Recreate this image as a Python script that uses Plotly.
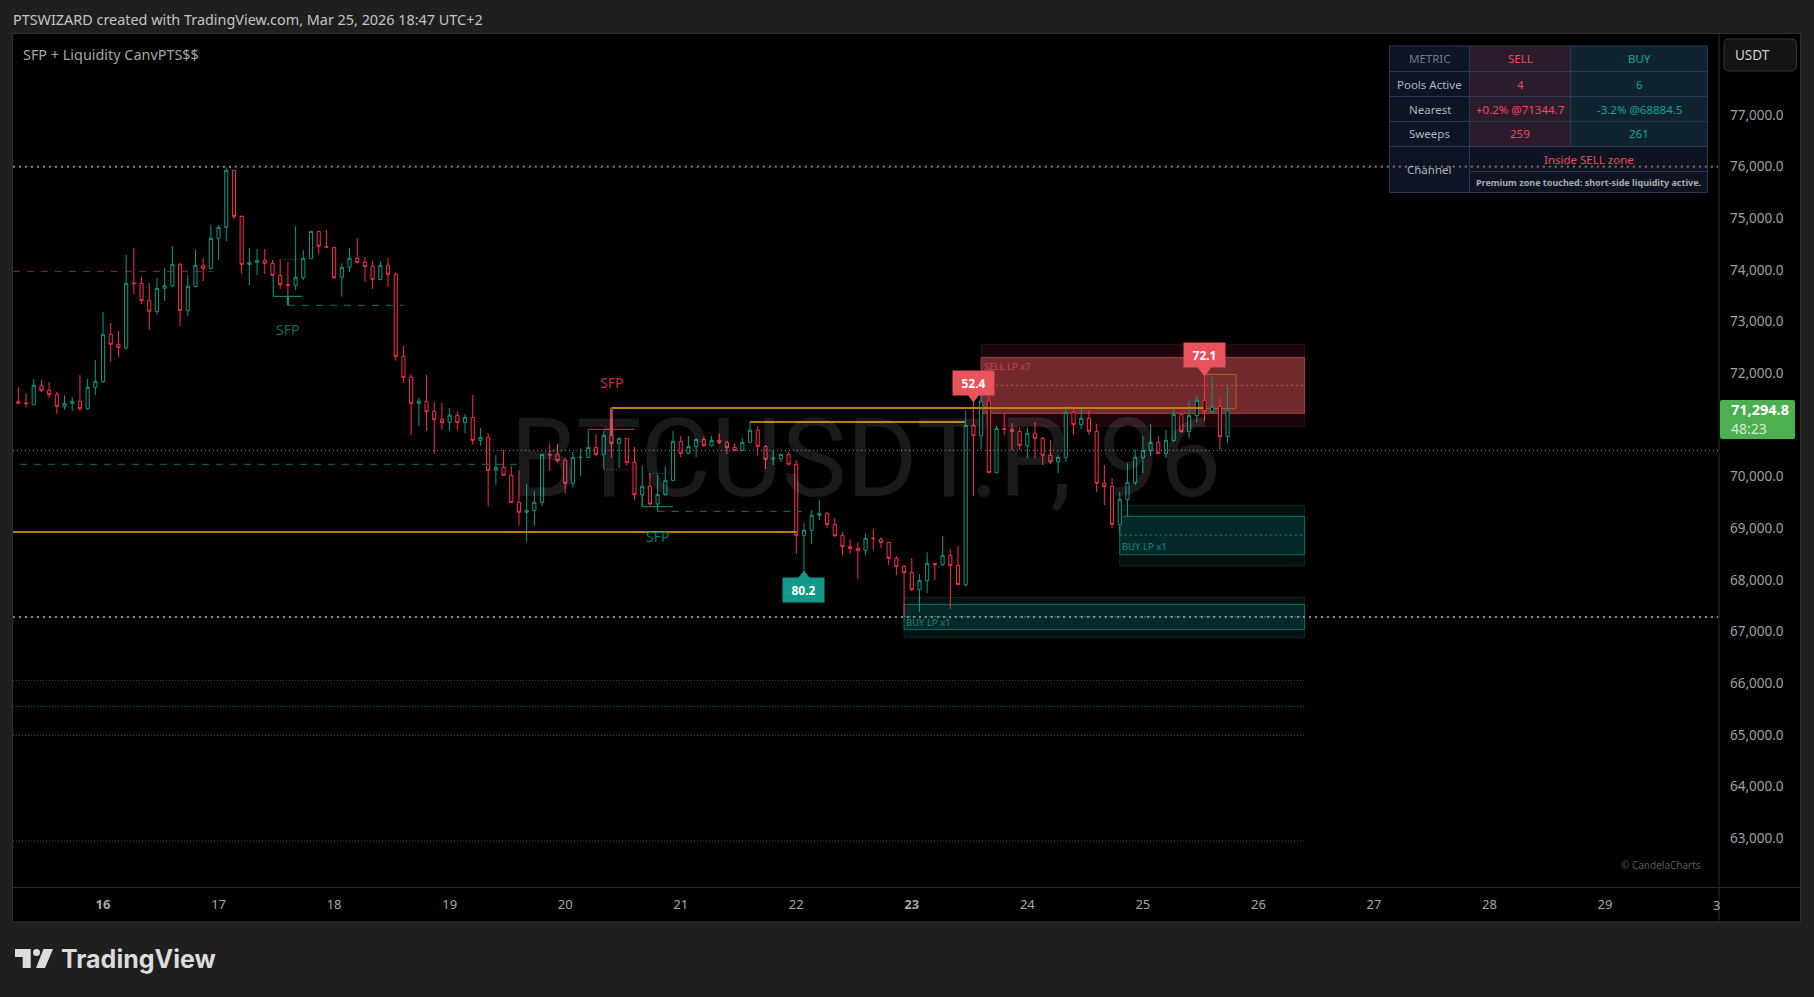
import plotly.graph_objects as go

W, H = 1814, 997

# ---------- data ----------
candle_open = [71459,71427,71394,71762,71672,71594,71356,71420,71459,71317,71730,71839,72756,72562,72497,73749,73743,73413,73194,73646,
73697,74110,73214,73678,74091,74033,74613,74826,75929,75039,74110,74149,74188,74130,73897,73717,73704,73852,74220,74749,
74459,74439,73859,74052,74226,74149,74072,73814,74091,73917,72330,71923,71420,71459,71265,71110,71046,71188,71046,71149,
70704,70762,70123,70182,70027,69504,69311,69343,69504,70433,70433,70317,69872,70368,70375,70569,70433,70801,70646,70743,
70278,69653,69814,69472,69653,69930,70685,70453,70582,70723,70601,70704,70665,70569,70504,70665,70898,70588,70343,70350,
70433,70240,68866,68962,69253,69291,69078,68866,68653,68614,68569,68814,68788,68730,68420,68266,68149,67814,67988,68324,
68298,68479,68285,67911,70994,70794,71465,70078,70930,70917,70878,70601,70840,70743,70414,70291,70375,71246,71007,71130,
70878,69872,69814,69072,69556,69885,70368,70510,70665,70446,70698,71207,70872,71181,71478,71259,71362,70775]
candle_high = [71736,71614,71891,71872,71833,71639,71575,71543,71968,71891,72259,73188,72975,72820,74291,74426,73865,73749,73846,74039,
74465,74136,73904,74388,74233,74871,74871,75987,75929,75059,74426,74407,74407,74194,74213,74155,74852,74388,74749,74749,
74775,74439,74130,74426,74620,74252,74175,74175,74233,73955,72530,71988,71523,71968,71446,71427,71330,71265,71214,71581,
70943,70840,70420,70517,70207,70130,69859,69724,70433,70646,70633,70375,70478,70549,70917,70820,70885,71336,70762,70743,
70575,70220,70065,70033,70201,70885,70788,70788,70743,70781,70788,70840,70704,70646,70749,71059,70975,70614,70498,70433,
70472,70323,69104,69349,69549,69317,69201,68930,68788,68730,68904,68982,68833,68730,68466,68285,68427,68117,68537,68324,
68853,68601,68659,71272,71490,71775,71620,70982,71214,71040,70956,70956,71059,70769,70711,70414,71369,71304,71323,71291,
71020,70227,69975,69704,70259,70536,70788,71020,70788,70904,71311,71207,71465,71575,71975,71930,71517,71736]
candle_low = [71420,71336,71394,71639,71523,71214,71298,71272,71272,71298,71581,71814,72220,72317,72459,73536,73343,72839,73130,73401,
73672,72917,73110,73678,73788,74007,74194,74562,74988,73923,73710,73904,73923,73880,73633,73317,73614,73807,74220,74310,
74420,73826,73484,73962,74130,73768,73633,73814,73672,72246,71820,70807,70988,70885,70446,70911,70885,70904,70846,70620,
70601,69420,69840,70020,69497,69053,68737,69053,69433,70111,70272,69672,69788,70014,70375,70395,70143,70368,70169,70214,
69556,69420,69446,69330,69633,69911,70382,70453,70382,70575,70588,70633,70440,70504,70504,70665,70401,70149,70227,70285,
70240,68504,68162,68698,69162,69007,68833,68485,68511,68020,68485,68582,68620,68291,68098,67292,67788,67382,67750,68001,
68272,67440,67911,67872,69627,70530,70078,70078,70807,70517,70517,70362,70362,70227,70246,70072,70285,70807,70923,70807,
69704,69453,69007,68891,69227,69840,70072,70401,70440,70362,70678,70852,70749,71046,71078,71220,70517,70652]
candle_close = [71420,71414,71769,71665,71588,71362,71414,71459,71317,71730,71846,72756,72562,72504,73743,73736,73407,73201,73646,73697,
74110,73220,73684,74091,74033,74613,74826,75929,75033,74110,74149,74188,74130,73897,73717,73704,73859,74226,74749,74459,
74446,73852,74052,74226,74143,74065,73820,74091,73917,72330,71923,71420,71459,71259,71104,71046,71194,71046,71149,70704,
70762,70123,70175,70027,69504,69311,69349,69504,70433,70420,70311,69872,70375,70375,70569,70433,70801,70646,70743,70272,
69653,69814,69472,69659,69930,70685,70453,70588,70723,70601,70704,70659,70562,70504,70665,70898,70588,70336,70356,70433,
70240,68866,68962,69253,69291,69078,68859,68646,68608,68569,68808,68801,68724,68420,68259,68143,67814,67995,68324,68298,
68479,68279,67911,70994,70794,71465,70078,70936,70917,70872,70607,70840,70736,70414,70285,70375,71240,71007,71130,70878,
69872,69807,69078,69562,69891,70375,70510,70665,70446,70704,71207,70872,71188,71478,71259,71362,70775,71294.8]
bar_index = list(range(len(candle_close)))

day_labels = ["16","17","18","19","20","21","22","23","24","25","26","27","28","29"]
day_index = [11 + 15 * i for i in range(len(day_labels))]
price_ticks = [63000,64000,65000,66000,67000,68000,69000,70000,72000,73000,74000,75000,76000,77000]

level_upper, level_upper_red = 76000, 75987
level_lower, level_mid = 67285, 70511
level_red_dash, level_teal_dash = 73975, 70240
orange_low, orange_high, orange_mid = 68930, 71330, 71059
green_levels = [66059, 65556, 64995, 62950]

sell_outer, sell_inner, sell_mid = (70975, 72562), (71227, 72310), 71768
buy1_outer, buy1_inner, buy1_mid = (68279, 69446), (68491, 69233), 68870
buy2_outer, buy2_inner, buy2_mid = (66892, 67666), (67040, 67530), 67292
box_orange = (71317, 71981)

table_rows = [
    ("METRIC", "SELL", "BUY"),
    ("Pools Active", "4", "6"),
    ("Nearest", "+0.2% @71344.7", "-3.2% @68884.5"),
    ("Sweeps", "259", "261"),
]

# ---------- helpers ----------
px = lambda x: x / W
py = lambda y: 1 - y / H
FONT = "Noto Sans"
RED, GREEN = "#fb2c46", "#089981"
shapes, annos = [], []

def prect(x0, y0, x1, y1, fill, line=None, lw=1, layer="below"):
    shapes.append(dict(type="rect", xref="paper", yref="paper", x0=px(x0), x1=px(x1), y0=py(y0), y1=py(y1),
                       fillcolor=fill, line=dict(color=line or fill, width=lw if line else 0), layer=layer))

def rrect(x0, y0, x1, y1, r, fill, line=None, layer="below"):
    X = lambda v: f"{px(v):.5f}"
    Y = lambda v: f"{py(v):.5f}"
    p = (f"M{X(x0+r)},{Y(y0)} L{X(x1-r)},{Y(y0)} Q{X(x1)},{Y(y0)} {X(x1)},{Y(y0+r)} L{X(x1)},{Y(y1-r)} "
         f"Q{X(x1)},{Y(y1)} {X(x1-r)},{Y(y1)} L{X(x0+r)},{Y(y1)} Q{X(x0)},{Y(y1)} {X(x0)},{Y(y1-r)} "
         f"L{X(x0)},{Y(y0+r)} Q{X(x0)},{Y(y0)} {X(x0+r)},{Y(y0)} Z")
    shapes.append(dict(type="path", xref="paper", yref="paper", path=p, fillcolor=fill,
                       line=dict(color=line or fill, width=1 if line else 0), layer=layer))

def ptext(x, y, text, color, size, xanchor="center", bold=False, font=FONT):
    annos.append(dict(xref="paper", yref="paper", x=px(x), y=py(y), text=f"<b>{text}</b>" if bold else text,
                      showarrow=False, xanchor=xanchor, yanchor="middle",
                      font=dict(family=font, size=size, color=color), borderpad=0, borderwidth=0))

def dtext(x, y, text, color, size, xanchor="center", bold=False, bg=None, pad=0, w=None, h=None):
    annos.append(dict(x=x, y=y, text=f"<b>{text}</b>" if bold else text, showarrow=False, xanchor=xanchor,
                      yanchor="middle", font=dict(family=FONT, size=size, color=color), bgcolor=bg,
                      borderpad=pad, width=w, height=h, align="center", valign="middle"))

def zone(x0, x1, outer, inner, mid, fill_o, line_o, fill_i, line_i, mid_col):
    shapes.append(dict(type="rect", x0=x0, x1=x1, y0=outer[0], y1=outer[1], fillcolor=fill_o,
                       line=dict(color=line_o, width=1), layer="below"))
    shapes.append(dict(type="rect", x0=x0, x1=x1, y0=inner[0], y1=inner[1], fillcolor=fill_i,
                       line=dict(color=line_i, width=1), layer="below"))
    lines.append(((x0, x1), (mid, mid), mid_col, "2px,3px", 1))

# lines gathered as (xs, ys, colour, dash, width)
lines = []
def hline(x0, x1, p, color, dash="solid", width=1):
    lines.append(((x0, x1), (p, p), color, dash, width))
def vline(x, p0, p1, color, dash="solid", width=1):
    lines.append(((x, x), (p0, p1), color, dash, width))

# ---------- chrome ----------
prect(13, 34, 1800, 921.5, "#000000")
prect(12.5, 33.5, 1800.5, 922, "rgba(0,0,0,0)", "#303030")
shapes.append(dict(type="line", xref="paper", yref="paper", x0=px(13), x1=px(1800), y0=py(887.5), y1=py(887.5),
                   line=dict(color="#2a2a2a", width=1), layer="below"))
shapes.append(dict(type="line", xref="paper", yref="paper", x0=px(1719), x1=px(1719), y0=py(34), y1=py(921),
                   line=dict(color="#2a2a2a", width=1), layer="below"))

ptext(13, 20, "PTSWIZARD created with TradingView.com, Mar 25, 2026 18:47 UTC+2", "#c4c4c4", 14.4, "left")
ptext(23, 54, "SFP + Liquidity CanvPTS$$", "#a6a6a6", 14.4, "left")
annos.append(dict(x=110, y=70340, text="BTCUSDT.P, 96", showarrow=False, xanchor="center", yanchor="middle",
                  font=dict(family="Roboto", size=109, color="rgba(255,255,255,0.1)")))

# ---------- zones ----------
SELL_L, RIGHT = 125, 167
zone(SELL_L, RIGHT, sell_outer, sell_inner, sell_mid, "#1b0609", "#2c0f13", "#722a2f", "#a5404a", "#c65a66")
zone(143, RIGHT, buy1_outer, buy1_inner, buy1_mid, "#021110", "#082824", "#05292a", "#0b6e62", "#0f8a7a")
zone(115, RIGHT, buy2_outer, buy2_inner, buy2_mid, "#021110", "#082824", "#05292a", "#0b6e62", "#0f8a7a")
shapes.append(dict(type="rect", x0=154, x1=158.1, y0=box_orange[0], y1=box_orange[1], fillcolor="rgba(200,120,30,0.08)",
                   line=dict(color="#a8642a", width=1), layer="below"))
dtext(125.3, 72135, "SELL LP x7", "#c9474f", 9.5, "left")
dtext(143.1, 68657, "BUY LP x1", "#0f8a7a", 9.5, "left")
dtext(115.1, 67185, "BUY LP x1", "#0f8a7a", 9.5, "left")

# ---------- levels ----------
END = 220.7
hline(-0.7, END, level_upper, "#8c8c8c", "2px,4px", 2)
hline(28, END, level_upper_red, "#5e2a30", "3px,3px", 1)
hline(-0.7, END, level_lower, "#8c8c8c", "2px,4px", 2)
hline(-0.7, END, level_mid, "#9a9a9a", "1px,3px", 1)
hline(-0.7, 25.3, level_red_dash, "#80323a", "7px,7px", 1)
hline(0.2, 64.9, level_teal_dash, "#0a6f60", "7px,7px", 1)
hline(-0.7, 101.1, orange_low, "#b97a12", width=2)
hline(77, 153.9, orange_high, "#c47e14", width=2)
hline(95, 122.9, orange_mid, "#b97a12", width=2)
for lv in green_levels:
    hline(-0.7, RIGHT, lv, "#0d7565", "1px,2px", 1)

# SFP drawings, top left
hline(33.1, 36.9, 73491, GREEN)
vline(33.1, 73880, 73491, GREEN)
vline(35, 73491, 73317, GREEN, width=2)
hline(35, 50, 73317, "#0a7565", "7px,7px")
hline(34.2, 36.6, 74207, "#0a7565", "1px,2px")
dtext(35, 72850, "SFP", "#0a6b5c", 14)
# SFP drawings, centre red
vline(77, 71330, 70801, "#c23a4a", width=3)
hline(74, 80, 70917, "#e03040")
hline(76, 80, 70143, "#b02a3a", "1px,2px")
dtext(77, 71833, "SFP", "#c0303f", 14)
# SFP drawings, centre green
hline(81, 85, 69420, GREEN)
vline(81, 69653, 69420, GREEN)
vline(83, 69472, 69330, GREEN)
hline(83, 101.7, 69330, "#0a7565", "7px,7px")
hline(82, 85, 70065, "#0a7565", "1px,2px")
dtext(83, 68835, "SFP", "#0a7565", 14)

# ---------- figure ----------
fig = go.Figure()
fig.add_trace(go.Candlestick(x=bar_index, open=candle_open, high=candle_high, low=candle_low, close=candle_close,
                             increasing=dict(line=dict(color=GREEN, width=1), fillcolor="#000000"),
                             decreasing=dict(line=dict(color=RED, width=1), fillcolor="#000000"),
                             whiskerwidth=0, showlegend=False, hoverinfo="skip"))
for xs, ys, c, d, w in lines:
    fig.add_trace(go.Scatter(x=list(xs), y=list(ys), mode="lines", showlegend=False, hoverinfo="skip",
                             line=dict(color=c, dash=d, width=w)))

# value callouts
dtext(124, 71810, "52.4", "#ffffff", 12, bold=True, bg="#e8535d", w=41, h=24)
dtext(154, 72355, "72.1", "#ffffff", 12, bold=True, bg="#e8535d", w=41, h=24)
dtext(102, 67802, "80.2", "#ffffff", 12, bold=True, bg="#12998a", w=41, h=24)
fig.add_trace(go.Scatter(x=[124, 154], y=[71560, 72070], mode="markers", showlegend=False, hoverinfo="skip",
                         marker=dict(symbol="triangle-down", size=13, color="#e8535d", line=dict(width=0))))
fig.add_trace(go.Scatter(x=[102], y=[68060], mode="markers", showlegend=False, hoverinfo="skip",
                         marker=dict(symbol="triangle-up", size=13, color="#12998a", line=dict(width=0))))

# ---------- info table ----------
cols = [1389.5, 1469.5, 1570.5, 1707.5]
rows = [46, 71.5, 96.5, 121.5, 146.5, 171.5, 192.5]
BORDER = "#2a3a52"
fills = ["#0d1424", "#2a1c2c", "#10242f"]
txt0 = ["#787b86", "#b2b5be", "#b2b5be", "#b2b5be"]
for r, row in enumerate(table_rows):
    for c, val in enumerate(row):
        prect(cols[c], rows[r], cols[c + 1], rows[r + 1], fills[c], BORDER)
        col = txt0[r] if c == 0 else ("#f2495a" if c == 1 else "#12a594")
        ptext((cols[c] + cols[c + 1]) / 2, (rows[r] + rows[r + 1]) / 2, val, col, 11.5)
prect(cols[0], rows[4], cols[1], rows[6], fills[0], BORDER)
prect(cols[1], rows[4], cols[3], rows[5], "#0d1320", BORDER)
prect(cols[1], rows[5], cols[3], rows[6], "#0d1320", BORDER)
ptext((cols[0] + cols[1]) / 2, 169.5, "Channel", "#b2b5be", 11.5)
ptext((cols[1] + cols[3]) / 2, 159.5, "Inside SELL zone", "#f2495a", 11.5)
ptext((cols[1] + cols[3]) / 2, 182.5, "Premium zone touched: short-side liquidity active.", "#a8abb0", 9, bold=True)

# ---------- price-scale furniture ----------
rrect(1724, 39, 1796.5, 71, 5, "#141414", "#363636")
ptext(1735, 55, "USDT", "#d0d0d0", 13.5, "left")
rrect(1720, 400, 1795, 439, 2, "#4caf50", layer="above")
ptext(1731, 409.5, "71,294.8", "#ffffff", 14.5, "left", bold=True)
ptext(1731, 428, "48:23", "#d5ecd6", 14, "left")
ptext(1716.5, 905, "3", "#a8a8a8", 13)
ptext(1661, 865, "© CandelaCharts", "#5a5a5a", 10)

# ---------- TradingView mark ----------
LOGO = "#dcdcdc"
def logo_path(points):
    d = "M" + " L".join(f"{px(a):.5f},{py(b):.5f}" for a, b in points) + " Z"
    shapes.append(dict(type="path", xref="paper", yref="paper", path=d, fillcolor=LOGO, line=dict(width=0), layer="below"))
logo_path([(15, 949), (30.7, 949), (30.7, 968), (22.7, 968), (22.7, 957), (15, 957)])
logo_path([(43.5, 949), (53, 949), (45, 968), (36, 968)])
shapes.append(dict(type="circle", xref="paper", yref="paper", x0=px(33), x1=px(40), y0=py(949), y1=py(956),
                   fillcolor=LOGO, line=dict(width=0), layer="below"))
ptext(61, 959, "TradingView", LOGO, 25, "left", font="Inter", bold=True)

fig.update_layout(
    width=W, height=H, margin=dict(l=0, r=0, t=0, b=0, pad=0, autoexpand=False),
    paper_bgcolor="#1f1f1f", plot_bgcolor="#000000", showlegend=False, hovermode=False,
    boxgap=0.42, shapes=shapes, annotations=annos, font=dict(family=FONT),
    xaxis=dict(domain=[px(13), px(1719)], range=[-0.69, 220.8], rangeslider=dict(visible=False), showgrid=False,
               zeroline=False, showline=False, tickmode="array", tickvals=day_index,
               ticktext=[f"<b>{d}</b>" if d in ("16", "23") else d for d in day_labels],
               ticks="", tickfont=dict(family=FONT, size=13, color="#a8a8a8"), ticklabelstandoff=8),
    yaxis=dict(domain=[py(887), py(34)], range=[62060, 78568], side="right", showgrid=False, zeroline=False,
               showline=False, tickmode="array", tickvals=price_ticks, tickformat=",.1f", ticks="",
               tickfont=dict(family=FONT, size=13.5, color="#a0a0a0"), ticklabelstandoff=10),
)
fig.write_html("out.html", config=dict(displayModeBar=False, responsive=False),
               post_script="document.body.style.margin='0';document.documentElement.style.overflow='hidden';")
